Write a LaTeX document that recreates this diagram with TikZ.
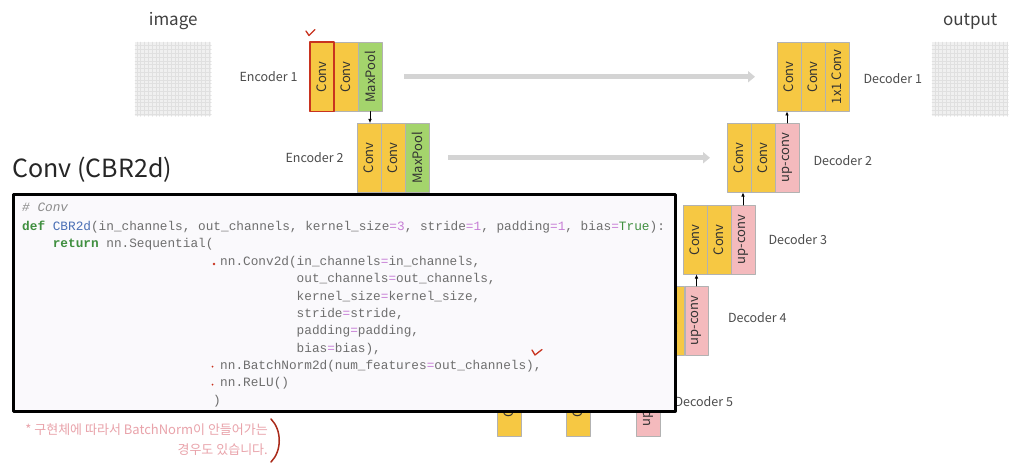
\documentclass[tikz,border=0pt]{standalone}
\usepackage{fontspec}
\setmainfont{Noto Sans CJK KR}
\setmonofont{Liberation Mono}
\usetikzlibrary{positioning}
\usetikzlibrary{arrows.meta}

\definecolor{convyellow}{HTML}{F6C843}
\definecolor{poolgreen}{HTML}{A4D46C}
\definecolor{uppink}{HTML}{F4BABD}
\definecolor{codegray}{HTML}{6E6E6E}
\definecolor{codebg}{HTML}{FAF9FC}
\definecolor{kwgreen}{HTML}{3F8F3F}
\definecolor{fnblue}{HTML}{4A6FB5}
\definecolor{eqpink}{HTML}{C77FD6}
\definecolor{notepink}{HTML}{E9A3AA}
\definecolor{markred}{HTML}{C8331F}

\newcommand{\codeeq}{\textcolor{eqpink}{=}}
\newcommand{\codenum}[1]{\textcolor{eqpink}{#1}}

\begin{document}
\begin{tikzpicture}[
        x=1pt, y=-1pt,
        line cap=round,
        line join=round,
        blk/.style={draw=black!30, line width=0.5pt, minimum width=23.5pt, minimum height=69pt,
            inner sep=0pt, font=\fontsize{13}{14}\selectfont, text=black!80},
        conv/.style={blk, fill=convyellow},
        pool/.style={blk, fill=poolgreen},
        upc/.style={blk, fill=uppink},
        lbl/.style={font=\fontsize{12.5}{14}\selectfont, text=black!70},
        skip/.style={line width=5pt, draw=black!17, line cap=butt, -{Triangle[length=7pt,width=11pt]}},
        flow/.style={line width=0.6pt, -{Latex[length=4pt,width=3.5pt]}},
        imgbox/.style={fill=black!6, minimum width=76pt, minimum height=74pt, inner sep=0pt},
        code/.style={anchor=west, inner sep=0pt, text height=9pt, text depth=3pt,
            font=\fontsize{12.75}{14}\ttfamily, text=codegray}
    ]
        \useasboundingbox (0,0) rectangle (1030,476);
        \fill[white] (0,0) rectangle (1030,476);

        % immagini ingresso / uscita
        \node[imgbox, anchor=north west] (img) at (135,42) {};
        \draw[black!12, line width=0.3pt, step=3.8pt] (img.south west) grid (img.north east);
        \node[font=\fontsize{17}{20}\selectfont, text=black!75, above=9pt of img] (imglbl) {image};

        \node[imgbox, anchor=north west] (out) at (932,42) {};
        \draw[black!12, line width=0.3pt, step=3.8pt] (out.south west) grid (out.north east);
        \node[font=\fontsize{17}{20}\selectfont, text=black!75, above=9pt of out] (outlbl) {output};

        % Encoder 1
        \node[conv, anchor=north west] (e1a) at (310,42) {\rotatebox{90}{Conv}};
        \node[conv, right=0pt of e1a] (e1b) {\rotatebox{90}{Conv}};
        \node[pool, right=0pt of e1b] (e1c) {\rotatebox{90}{MaxPool}};
        \draw[markred, line width=1.6pt] (e1a.south west) rectangle (e1a.north east);
        \node[lbl, left=9pt of e1a] (e1lbl) {Encoder 1};

        % Encoder 2
        \node[conv, anchor=north west] (e2a) at (357,123) {\rotatebox{90}{Conv}};
        \node[conv, right=0pt of e2a] (e2b) {\rotatebox{90}{Conv}};
        \node[pool, right=0pt of e2b] (e2c) {\rotatebox{90}{MaxPool}};
        \node[lbl, left=10pt of e2a] (e2lbl) {Encoder 2};

        % Decoder 1
        \node[conv, anchor=north west] (d1a) at (777,42) {\rotatebox{90}{Conv}};
        \node[conv, right=0pt of d1a] (d1b) {\rotatebox{90}{Conv}};
        \node[conv, right=0pt of d1b] (d1c) {\rotatebox{90}{1x1 Conv}};
        \node[lbl, right=11pt of d1c, yshift=-2pt] (d1lbl) {Decoder 1};

        % Decoder 2
        \node[conv, anchor=north west] (d2a) at (727,123) {\rotatebox{90}{Conv}};
        \node[conv, right=0pt of d2a] (d2b) {\rotatebox{90}{Conv}};
        \node[upc, right=0pt of d2b] (d2c) {\rotatebox{90}{up-conv}};
        \node[lbl, right=11pt of d2c, yshift=-3pt] (d2lbl) {Decoder 2};

        % Decoder 3
        \node[conv, anchor=north west] (d3a) at (683,205) {\rotatebox{90}{Conv}};
        \node[conv, right=0pt of d3a] (d3b) {\rotatebox{90}{Conv}};
        \node[upc, right=0pt of d3b] (d3c) {\rotatebox{90}{up-conv}};
        \node[lbl, right=10pt of d3c] (d3lbl) {Decoder 3};

        % Decoder 4
        \node[conv, anchor=north west] (d4a) at (636.5,286) {\rotatebox{90}{Conv}};
        \node[conv, right=0pt of d4a] (d4b) {\rotatebox{90}{Conv}};
        \node[upc, right=0pt of d4b] (d4c) {\rotatebox{90}{up-conv}};
        \node[lbl, right=16pt of d4c, yshift=3pt] (d4lbl) {Decoder 4};

        % Decoder 5
        \node[conv, anchor=north west] (d5a) at (497,367) {\rotatebox{90}{Conv}};
        \node[conv, anchor=north west] (d5b) at (566,367) {\rotatebox{90}{Conv}};
        \node[upc, anchor=north west] (d5c) at (636,367) {\rotatebox{90}{up-conv}};
        \node[lbl, right=11pt of d5c] (d5lbl) {Decoder 5};

        % collegamenti
        \draw[skip, shorten <=22pt, shorten >=22pt] (e1c.east) -- (d1a.west);
        \draw[skip, shorten <=19pt, shorten >=17pt] (e2c.east) -- (d2a.west);
        \draw[flow] (e1c.south) -- (e1c.south |- e2a.north);
        \draw[flow] (d2c.north) -- (d2c.north |- d1a.south);
        \draw[flow] (d3c.north) -- (d3c.north |- d2a.south);
        \draw[flow] (d4c.north) -- (d4c.north |- d3a.south);

        % titolo
        \node[anchor=west, font=\fontsize{25}{28}\selectfont, text=black!85] (title) at (9,170) {Conv (CBR2d)};

        % riquadro del codice
        \fill[black!22] (15,196) rectangle (677,413);
        \node[draw, line width=2.5pt, fill=codebg, minimum width=662pt, minimum height=217pt,
            inner sep=0pt, anchor=north west] (codebox) at (12,193) {};

        \node[code, text=black!45] (c1) at (22,208) {\itshape\# Conv};
        \node[code] (c2) at (22,227) {\textcolor{kwgreen}{\bfseries def} \textcolor{fnblue}{CBR2d}(in\_channels, out\_channels, kernel\_size\codeeq\codenum{3}, stride\codeeq\codenum{1}, padding\codeeq\codenum{1}, bias\codeeq\textcolor{kwgreen}{True}):};
        \node[code] (c3) at (52.6,244) {\textcolor{kwgreen}{\bfseries return} nn.Sequential(};
        \node[code] (c4) at (220,262) {nn.Conv2d(in\_channels\codeeq in\_channels,};
        \node[code] (c5) at (296.5,279.5) {out\_channels\codeeq out\_channels,};
        \node[code] (c6) at (296.5,297) {kernel\_size\codeeq kernel\_size,};
        \node[code] (c7) at (296.5,314) {stride\codeeq stride,};
        \node[code] (c8) at (296.5,331.5) {padding\codeeq padding,};
        \node[code] (c9) at (296.5,349) {bias\codeeq bias),};
        \node[code] (c10) at (220,366) {nn.BatchNorm2d(num\_features\codeeq out\_channels),};
        \node[code] (c11) at (220,383.5) {nn.ReLU()};
        \node[code] (c12) at (213,401) {)};

        % segni a mano
        \fill[markred] (214,264) circle (1.3pt);
        \fill[markred] (212.5,366.5) circle (1pt);
        \fill[markred] (212.5,384.5) circle (1pt);
        \draw[markred, line width=1.3pt] (306,31) -- (309,35.5) -- (315,29.5);
        \draw[markred, line width=1.3pt] (532,350) -- (535,355) -- (542,349.5);

        % nota
        \node[anchor=north east, align=right, inner sep=0pt, text=notepink,
            font=\fontsize{13}{20}\selectfont] (note) at (268,424)
            {* 구현체에 따라서 BatchNorm이 안들어가는\\경우도 있습니다.};
        \draw[markred!85!black, line width=1.5pt] (271,419) .. controls (282,430) and (282,451) .. (271,462);
    \end{tikzpicture}
\end{document}
